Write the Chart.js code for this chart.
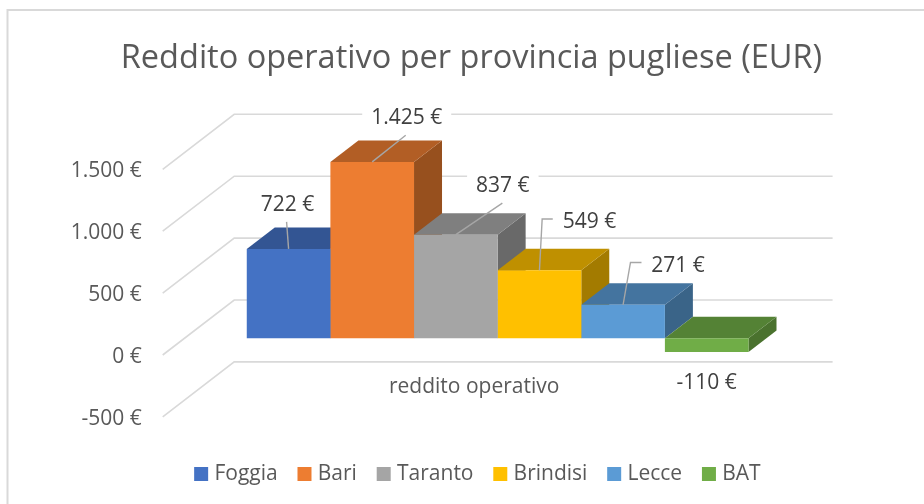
<!DOCTYPE html>
<html>
<head>
<meta charset="utf-8">
<style>
  body { margin: 0; background: #fff; }
  canvas { display: block; }
</style>
<script src="https://cdn.jsdelivr.net/npm/chart.js@4"></script>
</head>
<body>
<canvas id="chart" width="924" height="504"></canvas>
<script>
// values
const categories = ['reddito operativo'];
const provinces = ['Foggia', 'Bari', 'Taranto', 'Brindisi', 'Lecce', 'BAT'];
const redditoOperativo = [722, 1425, 837, 549, 271, -110];
const barColors = ['#4472C4', '#ED7D31', '#A5A5A5', '#FFC000', '#5B9BD5', '#70AD47'];
const topColors = ['#335593', '#B25E25', '#7F7F7F', '#BF9000', '#44749F', '#548235'];
const sideColors = ['#2B4A80', '#97501E', '#696969', '#A37B00', '#3A6488', '#4A722E'];

// where each value label sits relative to its bar, and its leader line
const labelOffsets = [[-1, -43.5], [34.5, -43.5], [47, -48.5], [50, -48.5], [55, -38.5], [0, 31]];
const leaderPaths = [
  [[-2, -27]],
  [[33.5, -26.7]],
  [[46.5, -31.6]],
  [[2.7, -51.3], [13.3, -51.3]],
  [[7.4, -42.3], [18.4, -42.3]],
  []
];

const FONT = '"Open Sans", sans-serif';
const TEXT = '#595959';
const GRID = '#d9d9d9';

// 3D projection, in pixels
const wallDx = 71.5, wallDy = -55;
const barLift = -16.7;
const barDx = 28, barDy = -21.5;

function euro(v) {
  return String(v).replace(/\B(?=(\d{3})+$)/, '.') + ' €';
}

function poly(ctx, pts, fill) {
  ctx.beginPath();
  pts.forEach((p, i) => i ? ctx.lineTo(p[0], p[1]) : ctx.moveTo(p[0], p[1]));
  ctx.closePath();
  ctx.fillStyle = fill;
  ctx.fill();
}

const frame3d = {
  id: 'frame3d',
  afterLayout(chart) {
    // legend is not quite centred under the title in the original
    chart.legend.left += 8;
    chart.legend.right += 8;
  },
  beforeDraw(chart) {
    const { ctx } = chart;
    ctx.save();
    ctx.strokeStyle = GRID;
    ctx.lineWidth = 2;
    ctx.beginPath();
    ctx.moveTo(7.5, 504);
    ctx.lineTo(7.5, 10);
    ctx.lineTo(924, 10);
    ctx.stroke();
    ctx.restore();
  },
  beforeDatasetsDraw(chart) {
    const { ctx, chartArea, scales } = chart;
    ctx.save();
    // side and back grid lines
    ctx.strokeStyle = GRID;
    ctx.lineWidth = 1.6;
    scales.y.ticks.forEach(t => {
      const y = scales.y.getPixelForValue(t.value);
      ctx.beginPath();
      ctx.moveTo(chartArea.left, y);
      ctx.lineTo(chartArea.left + wallDx, y + wallDy);
      ctx.lineTo(chartArea.right, y + wallDy);
      ctx.stroke();
    });
    // bars sit a little behind the axis plane
    ctx.translate(0, barLift);
    const zero = scales.y.getPixelForValue(0);
    provinces.forEach((p, i) => {
      const bar = chart.getDatasetMeta(i).data[0];
      const l = bar.x - bar.width / 2, r = bar.x + bar.width / 2;
      const top = Math.min(bar.y, zero), bottom = Math.max(bar.y, zero);
      poly(ctx, [[r, top], [r + barDx, top + barDy], [r + barDx, bottom + barDy], [r, bottom]], sideColors[i]);
      poly(ctx, [[l, top], [l + barDx, top + barDy], [r + barDx, top + barDy], [r, top]], topColors[i]);
    });
  },
  afterDatasetsDraw(chart) {
    const { ctx } = chart;
    ctx.restore();
    ctx.save();
    ctx.font = '21px ' + FONT;
    ctx.textAlign = 'center';
    ctx.textBaseline = 'middle';
    provinces.forEach((p, i) => {
      const bar = chart.getDatasetMeta(i).data[0];
      const ax = bar.x, ay = bar.y + barLift;
      const lx = ax + labelOffsets[i][0], ly = ay + labelOffsets[i][1];
      const txt = euro(redditoOperativo[i]);
      const w = ctx.measureText(txt).width + 18;
      ctx.fillStyle = '#fff';
      ctx.fillRect(lx - w / 2, ly - 15, w, 30);
      if (leaderPaths[i].length) {
        ctx.strokeStyle = '#a6a6a6';
        ctx.lineWidth = 1.4;
        ctx.beginPath();
        ctx.moveTo(ax, ay);
        leaderPaths[i].forEach(o => ctx.lineTo(ax + o[0], ay + o[1]));
        ctx.stroke();
      }
      ctx.fillStyle = '#404040';
      ctx.fillText(txt, lx, ly);
    });
    ctx.restore();
  }
};

new Chart(document.getElementById('chart'), {
  type: 'bar',
  data: {
    labels: categories,
    datasets: provinces.map((p, i) => ({
      label: p,
      data: [redditoOperativo[i]],
      backgroundColor: barColors[i],
      borderWidth: 0,
      clip: false
    }))
  },
  options: {
    responsive: false,
    animation: false,
    barPercentage: 1,
    categoryPercentage: 0.749,
    layout: { padding: { left: 19, right: 0, top: 0, bottom: 9.4 } },
    plugins: {
      tooltip: { enabled: false },
      title: {
        display: true,
        text: 'Reddito operativo per provincia pugliese (EUR)',
        color: TEXT,
        font: { family: FONT, size: 32.5, weight: 'normal' },
        padding: { top: 39, bottom: 91.3 }
      },
      legend: {
        position: 'bottom',
        labels: {
          color: TEXT,
          font: { family: FONT, size: 21 },
          boxWidth: 5.6,
          boxHeight: 5.6,
          padding: 24,
          // thick same-colour outline keeps the swatch close to its text
          generateLabels: chart => provinces.map((p, i) => ({
            text: p,
            fillStyle: barColors[i],
            strokeStyle: barColors[i],
            lineWidth: 8.4,
            fontColor: TEXT,
            datasetIndex: i
          }))
        }
      }
    },
    scales: {
      x: {
        grid: { display: false, drawTicks: false },
        border: { display: false },
        ticks: { color: TEXT, font: { family: FONT, size: 21 }, mirror: true, padding: 17.7, labelOffset: -23.5 },
        afterFit(s) { s.height = 22.7; }
      },
      y: {
        min: -500,
        max: 1500,
        grid: { display: false, drawTicks: false },
        border: { display: false },
        ticks: { stepSize: 500, color: TEXT, font: { family: FONT, size: 21 }, padding: 21, labelOffset: 2, callback: euro },
        afterFit(s) { s.width = 143.7; }
      },
      rightGap: {
        position: 'right',
        grid: { display: false, drawTicks: false },
        border: { display: false },
        ticks: { display: false },
        afterFit(s) { s.width = 91.4; }
      }
    }
  },
  plugins: [frame3d]
});
</script>
</body>
</html>
